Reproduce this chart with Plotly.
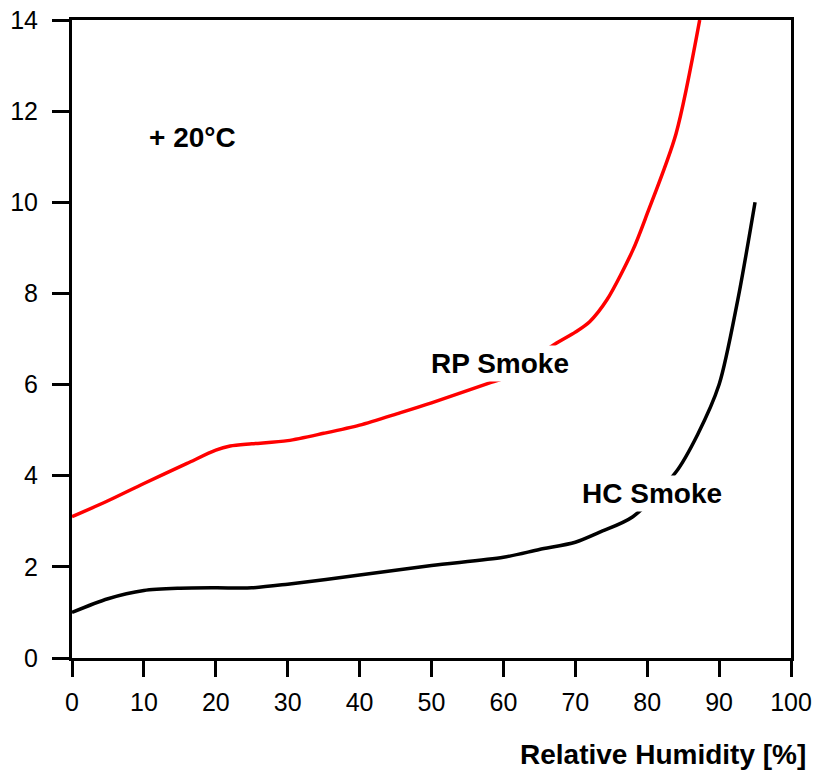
import plotly.graph_objects as go

# Relative humidity (%) and values for each smoke type
rp_x = [0, 5, 10, 16, 20, 22, 25, 30, 35, 40, 45.6, 50, 58, 60, 67.4, 70, 72, 74.4, 78, 80, 84, 87.3]
rp_y = [3.1, 3.45, 3.83, 4.27, 4.56, 4.65, 4.70, 4.77, 4.93, 5.11, 5.38, 5.6, 6.03, 6.14, 6.91, 7.15, 7.38, 7.86, 8.95, 9.75, 11.5, 14.0]

hc_x = [0, 5, 10, 15, 20, 25, 30, 40, 50, 60, 65, 70, 73.4, 78, 84, 87, 90, 92.6, 95]
hc_y = [1.0, 1.3, 1.48, 1.53, 1.54, 1.54, 1.62, 1.82, 2.03, 2.21, 2.38, 2.54, 2.76, 3.1, 4.08, 4.9, 6.0, 7.86, 10.0]

x_ticks = [0, 10, 20, 30, 40, 50, 60, 70, 80, 90, 100]
y_ticks = [0, 2, 4, 6, 8, 10, 12, 14]

FONT = "Liberation Sans, Arial, sans-serif"

fig = go.Figure()
fig.add_trace(go.Scatter(x=rp_x, y=rp_y, mode="lines",
                         line=dict(color="#ff0000", width=3.5, shape="spline", smoothing=0.8),
                         showlegend=False, hoverinfo="skip"))
fig.add_trace(go.Scatter(x=hc_x, y=hc_y, mode="lines",
                         line=dict(color="#000000", width=3.5, shape="spline", smoothing=0.8),
                         showlegend=False, hoverinfo="skip"))

labels = [
    dict(x=16.7, y=11.43, text="<b>+ 20°C</b>"),
    dict(x=59.5, y=6.47, text="<b>RP Smoke</b>"),
    dict(x=80.7, y=3.62, text="<b>HC Smoke</b>"),
]
for a in labels:
    fig.add_annotation(x=a["x"], y=a["y"], text=a["text"], showarrow=False,
                       font=dict(family=FONT, size=28, color="black"),
                       bgcolor="white", borderpad=2, xanchor="center", yanchor="middle")

fig.add_annotation(x=1.0236, y=-0.152, xref="paper", yref="paper",
                   text="<b>Relative Humidity [%]</b>", showarrow=False,
                   font=dict(family=FONT, size=28, color="black"),
                   xanchor="right", yanchor="middle")

fig.update_xaxes(range=[0, 100], tickvals=x_ticks, ticks="outside", ticklen=16, tickwidth=3,
                 tickcolor="black", showline=True, linewidth=3, linecolor="black", mirror=True,
                 showgrid=False, zeroline=False, automargin=False, ticklabelstandoff=4,
                 tickfont=dict(family=FONT, size=25, color="black"))
fig.update_yaxes(range=[0, 14], tickvals=y_ticks, ticks="outside", ticklen=17, tickwidth=3,
                 tickcolor="black", showline=True, linewidth=3, linecolor="black", mirror=True,
                 showgrid=False, zeroline=False, automargin=False, ticklabelstandoff=9,
                 tickfont=dict(family=FONT, size=25, color="black"))

fig.update_layout(width=819, height=774, margin=dict(l=72, r=28, t=20, b=116),
                  plot_bgcolor="white", paper_bgcolor="white")

# remove the page's default 8px body margin so the figure fills the window exactly
fig.write_html("out.html", config={"displayModeBar": False},
               post_script="document.body.style.margin='0';")
